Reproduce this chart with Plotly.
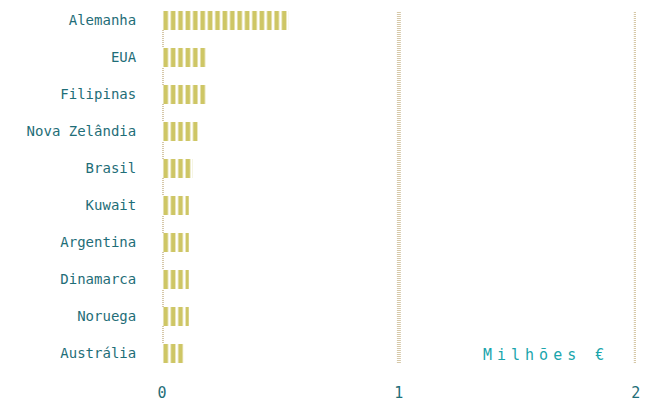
import plotly.graph_objects as go

countries = ["Alemanha", "EUA", "Filipinas", "Nova Zelândia", "Brasil",
             "Kuwait", "Argentina", "Dinamarca", "Noruega", "Austrália"]
values = [0.535, 0.188, 0.19, 0.151, 0.13, 0.113, 0.113, 0.113, 0.113, 0.092]
x_ticks = [0, 1, 2]
unit_label = "Milhões €"

FONT = "DejaVu Sans Mono"
TEAL = "#1f6e78"
BAR = "#cec665"
GRID = "#d6c8a8"

fig = go.Figure()
fig.add_trace(go.Bar(
    x=values, y=countries, orientation="h",
    marker=dict(color=BAR, line=dict(width=0),
                pattern=dict(shape="|", fgcolor=BAR, bgcolor="white",
                             size=7.4, solidity=0.62, fillmode="replace")),
    hoverinfo="x+y",
))

for t in x_ticks:
    fig.add_shape(type="line", xref="x", yref="paper", x0=t, x1=t, y0=0, y1=1,
                  line=dict(color=GRID, width=4, dash="1px,1px"), layer="below")

fig.add_annotation(xref="paper", yref="paper", x=0.947, y=0.023,
                   xanchor="right", yanchor="middle", showarrow=False,
                   text='<span style="letter-spacing:5px">' + unit_label + '</span>',
                   font=dict(family=FONT, size=15, color="#1aa5ac"))

fig.update_layout(
    width=643, height=401,
    margin=dict(l=154, r=15, t=3, b=46),
    paper_bgcolor="white", plot_bgcolor="white",
    bargap=0.486, showlegend=False,
    font=dict(family=FONT, size=14, color=TEAL),
)
fig.update_xaxes(range=[0, 2.001], tickvals=x_ticks, ticktext=[str(t) for t in x_ticks],
                 showgrid=False, zeroline=False, showline=False, automargin=False,
                 ticks="outside", ticklen=16, tickcolor="rgba(0,0,0,0)",
                 tickfont=dict(family=FONT, size=15, color=TEAL))
fig.update_yaxes(categoryorder="array", categoryarray=countries[::-1],
                 range=[-0.257, 9.257], automargin=False,
                 showgrid=False, zeroline=False, showline=False,
                 ticks="outside", ticklen=22, tickcolor="rgba(0,0,0,0)",
                 tickfont=dict(family=FONT, size=14, color=TEAL))

fig.write_html("out.html")
